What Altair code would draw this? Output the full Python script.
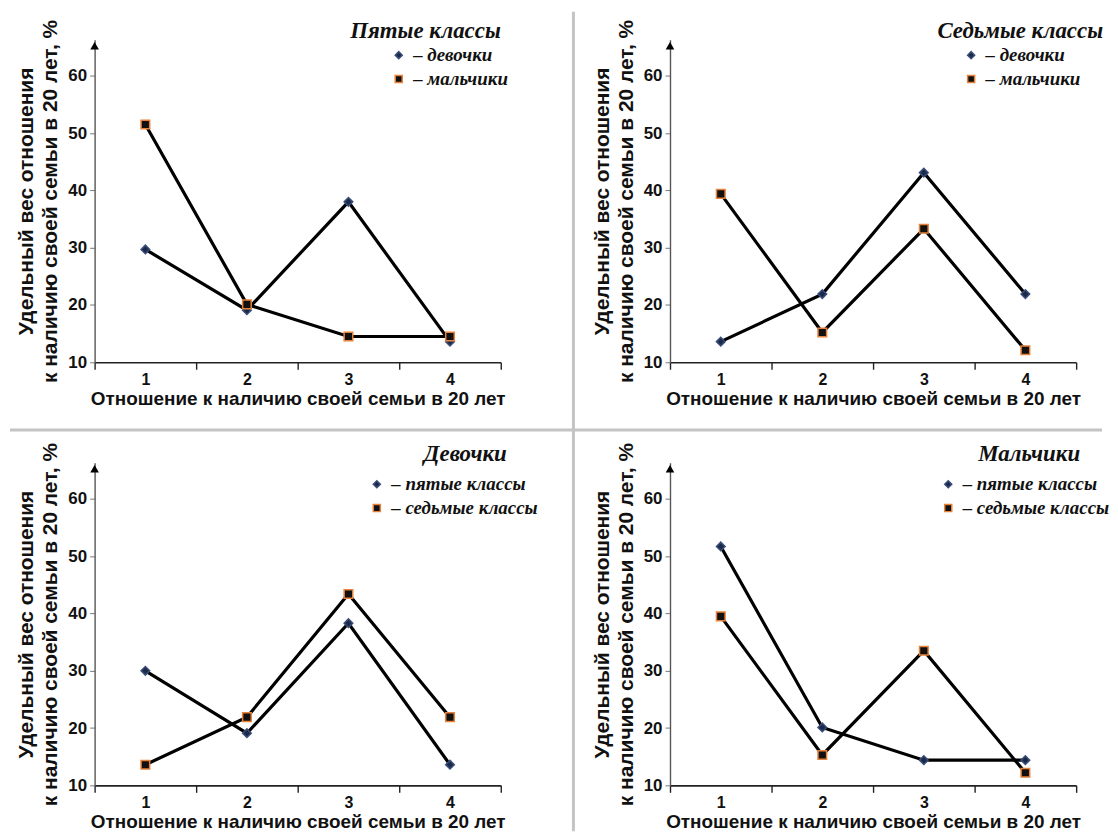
import altair as alt
import pandas as pd

categories = ["1", "2", "3", "4"]
y_ticks = [10, 20, 30, 40, 50, 60]
titles = ["Пятые классы", "Седьмые классы", "Девочки", "Мальчики"]
names_sex = ["девочки", "мальчики"]
names_grade = ["пятые классы", "седьмые классы"]

# Пятые классы
g5_girls = [29.7, 19.1, 38.0, 13.6]
g5_boys = [51.5, 20.1, 14.5, 14.5]
# Седьмые классы
g7_girls = [13.6, 21.9, 43.1, 21.9]
g7_boys = [39.4, 15.2, 33.3, 12.1]
# Девочки
girls_5 = [30.0, 19.1, 38.3, 13.6]
girls_7 = [13.6, 21.9, 43.4, 21.9]
# Мальчики
boys_5 = [51.7, 20.1, 14.4, 14.4]
boys_7 = [39.5, 15.3, 33.5, 12.2]

x_title = "Отношение к наличию своей семьи в 20 лет"
y_title = ["Удельный вес отношения", "к наличию своей семьи в 20 лет, %"]

W = 408
H = 324
Y_DOMAIN = [10, 66.3]


def panel(title, names, s1, s2, title_dx, leg_x, leg_y, sep=None):
    rows = []
    for name, vals in zip(names, [s1, s2]):
        for c, v in zip(categories, vals):
            rows.append({"cat": c, "value": v, "series": name})
    df = pd.DataFrame(rows)

    x = alt.X(
        "cat:O",
        scale=alt.Scale(type="band", domain=categories, paddingInner=0, paddingOuter=0),
        axis=alt.Axis(
            title=x_title, labelAngle=0, tickBand="extent", tickSize=7,
            labelPadding=2, titlePadding=2, domainWidth=1.6, tickWidth=1.4,
            domainColor="#222", tickColor="#222", titleFontSize=19, labelFontSize=16,
        ),
    )
    y = alt.Y(
        "value:Q",
        scale=alt.Scale(domain=Y_DOMAIN, nice=False, zero=False),
        axis=alt.Axis(
            title=y_title, values=y_ticks, tickSize=5, labelPadding=3,
            titlePadding=7, titleLineHeight=24, domainWidth=1.4,
            domainColor="#555", tickColor="#777", titleFontSize=21,
        ),
    )
    leg = alt.Legend(
        title=None, orient="none", legendX=leg_x, legendY=leg_y,
        labelFont="Liberation Serif", labelFontStyle="italic", labelFontWeight="bold",
        labelFontSize=19, labelColor="#111", labelExpr="'– ' + datum.label",
        symbolSize=50, symbolStrokeWidth=1.5, rowPadding=4, labelOffset=5,
    )
    base = alt.Chart(df)
    lines = base.mark_line(color="black", strokeWidth=3.2).encode(
        x=x, y=y, detail="series:N"
    )
    pts = base.mark_point(filled=True, size=75, opacity=1, strokeWidth=1.5).encode(
        x=x, y=y,
        shape=alt.Shape("series:N", scale=alt.Scale(domain=names, range=["diamond", "square"]), legend=leg),
        fill=alt.Fill("series:N", scale=alt.Scale(domain=names, range=["#1c2a4a", "#111111"]), legend=leg),
        stroke=alt.Stroke("series:N", scale=alt.Scale(domain=names, range=["#3a4d7a", "#e8823a"]), legend=leg),
    )
    arrow = alt.Chart(pd.DataFrame({"a": [0]})).mark_point(
        shape="triangle-up", filled=True, size=75, color="black", opacity=1
    ).encode(x=alt.value(0), y=alt.value(6))
    ttl = alt.Chart(pd.DataFrame({"t": [title]})).mark_text(
        align="right", baseline="middle", font="Liberation Serif", fontStyle="italic",
        fontWeight="bold", fontSize=23, color="#111",
    ).encode(x=alt.value(W + title_dx), y=alt.value(-9), text="t:N")
    layers = [lines, pts, arrow, ttl]
    if sep == "v":
        layers.append(
            alt.Chart(pd.DataFrame({"a": [0]})).mark_rule(color="#c4c4c4", strokeWidth=3).encode(
                x=alt.value(-97), y=alt.value(-28), y2=alt.value(795)
            )
        )
    if sep == "h":
        layers.append(
            alt.Chart(pd.DataFrame({"a": [0]})).mark_rule(color="#c4c4c4", strokeWidth=3).encode(
                y=alt.value(-33), x=alt.value(-85), x2=alt.value(1012)
            )
        )
    return alt.layer(*layers).properties(width=W, height=H).resolve_scale(
        shape="independent", fill="independent", stroke="independent"
    )


p1 = panel(titles[0], names_sex, g5_girls, g5_boys, 0, 296, 6)
p2 = panel(titles[1], names_sex, g7_girls, g7_boys, 27, 293, 6, sep="v")
p3 = panel(titles[2], names_grade, girls_5, girls_7, 6, 274, 12, sep="h")
p4 = panel(titles[3], names_grade, boys_5, boys_7, 4, 270, 12)

chart = alt.concat(
    p1, p2, p3, p4, columns=2, spacing={"row": 101, "column": 170}, bounds="flush"
).resolve_scale(
    shape="independent", fill="independent", stroke="independent"
).resolve_legend(
    shape="independent", fill="independent", stroke="independent"
).properties(
    padding={"left": 0, "top": 0, "right": 0, "bottom": 0}
).configure_view(stroke=None).configure_axis(
    grid=False, labelFont="Liberation Sans", labelFontWeight="bold", labelFontSize=17,
    labelColor="#111", titleFont="Liberation Sans", titleFontWeight="bold",
    titleFontSize=19, titleColor="#111",
)

chart.save("out.html", embed_options={"renderer": "svg", "actions": False})
